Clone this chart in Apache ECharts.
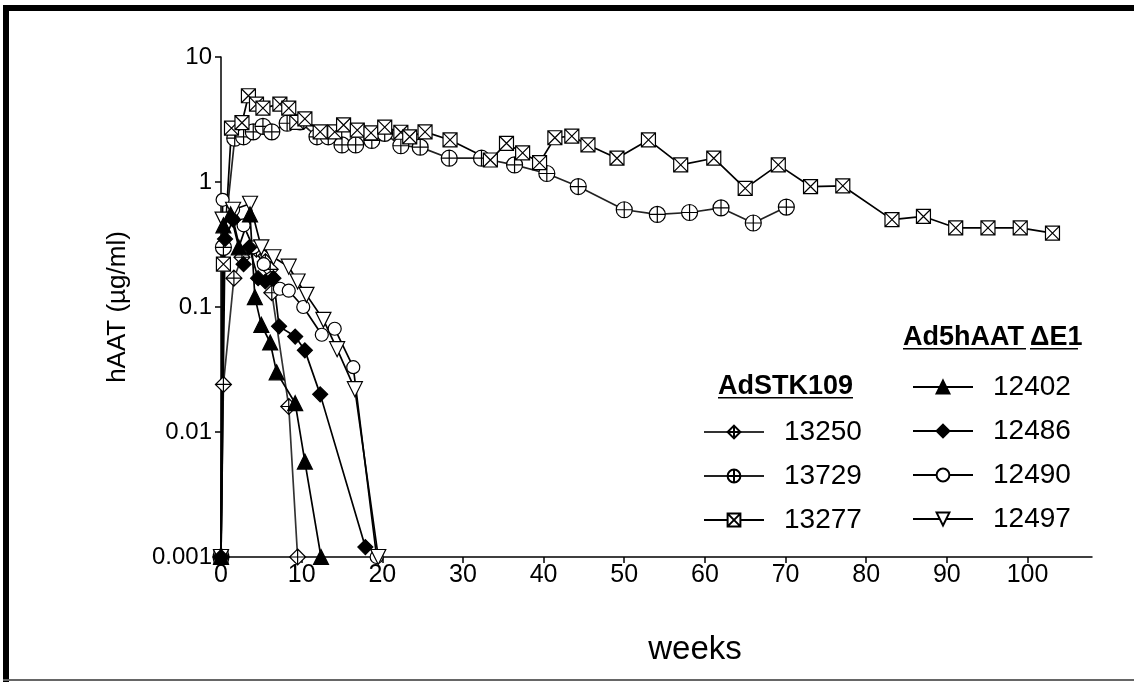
<!DOCTYPE html>
<html>
<head>
<meta charset="utf-8">
<script src="https://cdn.jsdelivr.net/npm/echarts@6/dist/echarts.min.js"></script>
<style>
  html, body { margin: 0; padding: 0; background: #fff; }
  #chart { width: 1134px; height: 682px; }
</style>
</head>
<body>
<div id="chart"></div>
<script>
// x ticks / y ticks
var weekTicks = [0, 10, 20, 30, 40, 50, 60, 70, 80, 90, 100];
var haatTicks = [0.001, 0.01, 0.1, 1, 10];

// AdSTK109 animals  [week, hAAT ug/ml]
var s13250 = [[0, 0.001], [0.3, 0.024], [1.6, 0.17], [2.6, 0.25], [4.4, 0.29], [5.5, 0.23],
  [6.1, 0.2], [6.3, 0.13], [8.4, 0.016], [9.5, 0.001]];
var s13729 = [[0, 0.001], [0.3, 0.3], [1.7, 2.24], [2.8, 2.3], [4, 2.52], [5.2, 2.79], [6.3, 2.52],
  [8.2, 2.95], [9.8, 3.03], [11.9, 2.3], [13.3, 2.3], [15, 1.98], [16.7, 1.98], [18.7, 2.15],
  [20.3, 2.45], [22.3, 1.95], [24.7, 1.9], [28.3, 1.55], [32.3, 1.55], [36.4, 1.37], [40.4, 1.17],
  [44.3, 0.92], [50, 0.6], [54.1, 0.55], [58.1, 0.57], [62, 0.62], [66, 0.47], [70.1, 0.63]];
var s13277 = [[0, 0.001], [0.3, 0.22], [1.3, 2.7], [2.6, 2.98], [3.4, 4.9], [4.4, 4.2], [5.2, 3.9],
  [7.3, 4.2], [8.4, 3.9], [9.4, 3.0], [10.4, 3.2], [12.3, 2.52], [14.1, 2.52], [15.2, 2.86],
  [16.9, 2.6], [18.6, 2.47], [20.3, 2.75], [22.3, 2.5], [23.4, 2.3], [25.3, 2.52], [28.4, 2.17],
  [33.4, 1.5], [35.4, 2.04], [37.4, 1.71], [39.5, 1.43], [41.4, 2.26], [43.5, 2.33], [45.5, 1.98],
  [49.1, 1.55], [53, 2.17], [57, 1.37], [61.1, 1.55], [65, 0.89], [69.1, 1.37], [73.1, 0.92],
  [77.1, 0.93], [83.2, 0.5], [87.1, 0.53], [91.1, 0.43], [95.1, 0.43], [99.1, 0.43], [103.1, 0.39]];

// Ad5hAATdE1 animals
var s12402 = [[0, 0.001], [0.3, 0.45], [1.2, 0.55], [2.2, 0.3], [3.6, 0.55], [4.2, 0.12],
  [5, 0.072], [6.1, 0.052], [6.9, 0.03], [9.2, 0.017], [10.4, 0.0058], [12.4, 0.001]];
var s12486 = [[0, 0.001], [0.5, 0.35], [1.5, 0.5], [2.8, 0.22], [3.5, 0.3], [4.6, 0.17], [5.5, 0.16],
  [6.5, 0.17], [7.2, 0.07], [9.2, 0.058], [10.4, 0.045], [12.3, 0.02], [17.9, 0.0012]];
var s12490 = [[0, 0.001], [0.2, 0.72], [1.5, 0.6], [2.8, 0.45], [4, 0.3], [5.3, 0.22], [6.3, 0.17],
  [7.3, 0.14], [8.4, 0.135], [10.2, 0.1], [12.5, 0.06], [14.1, 0.067], [16.4, 0.033], [19.3, 0.001]];
var s12497 = [[0, 0.001], [0.2, 0.5], [1.5, 0.6], [3.6, 0.67], [5, 0.3], [6.5, 0.25], [8.4, 0.21],
  [9.5, 0.16], [10.6, 0.125], [12.7, 0.079], [14.4, 0.046], [16.6, 0.022], [19.5, 0.001]];

var FONT = '"Liberation Sans", Arial, Helvetica, sans-serif';

// marker shapes
var diamondPlus = 'path://M10,0 L20,10 L10,20 L0,10 Z M10,0 L10,20 M0,10 L20,10';
var circlePlus = 'path://M0,10 A10,10 0 1,1 20,10 A10,10 0 1,1 0,10 Z M10,0 L10,20 M0,10 L20,10';
var squareX = 'path://M0,0 L20,0 L20,20 L0,20 Z M0,0 L20,20 M20,0 L0,20';
var triDown = 'path://M0,0 L20,0 L10,18 Z';

function mkSeries(name, data, symbol, size, fill, lineColor) {
  return {
    name: name,
    type: 'line',
    data: data,
    symbol: symbol,
    symbolSize: size,
    showAllSymbol: true,
    animation: false,
    lineStyle: { color: lineColor, width: 1.7 },
    itemStyle: { color: fill, borderColor: '#000', borderWidth: 1.2 }
  };
}

var chart = echarts.init(document.getElementById('chart'));

var option = {
  backgroundColor: '#fff',
  animation: false,
  grid: { left: 221, right: 42, top: 57, bottom: 125 },
  xAxis: {
    type: 'value',
    min: 0,
    max: 108,
    axisLine: { lineStyle: { color: '#000', width: 1.5 } },
    axisTick: { length: 6, lineStyle: { color: '#000', width: 1.5 }, customValues: weekTicks },
    axisLabel: { customValues: weekTicks, color: '#000', fontSize: 25, fontFamily: FONT, margin: 6 },
    splitLine: { show: false }
  },
  yAxis: {
    type: 'log',
    logBase: 10,
    min: 0.001,
    max: 10,
    axisLine: { show: true, lineStyle: { color: '#000', width: 1.5 } },
    axisTick: { show: true, length: 6, lineStyle: { color: '#000', width: 1.5 }, customValues: haatTicks },
    axisLabel: {
      customValues: haatTicks, color: '#000', fontSize: 24, fontFamily: FONT, margin: 9,
      formatter: function (v) { return String(+v.toPrecision(3)); }
    },
    splitLine: { show: false }
  },
  legend: [
    {
      data: ['13250', '13729', '13277'],
      orient: 'vertical',
      left: 703, top: 418,
      padding: 0,
      itemGap: 16,
      itemWidth: 60, itemHeight: 16,
      textStyle: { fontSize: 28, fontFamily: FONT, color: '#000', padding: [0, 0, 0, 15] }
    },
    {
      data: ['12402', '12486', '12490', '12497'],
      orient: 'vertical',
      left: 912, top: 373,
      padding: 0,
      itemGap: 16,
      itemWidth: 60, itemHeight: 16,
      textStyle: { fontSize: 28, fontFamily: FONT, color: '#000', padding: [0, 0, 0, 15] }
    }
  ],
  graphic: [
    // page frame
    { type: 'rect', shape: { x: 3, y: 5, width: 1131, height: 6 }, style: { fill: '#000' } },
    { type: 'rect', shape: { x: 3, y: 5, width: 6, height: 677 }, style: { fill: '#000' } },
    { type: 'rect', shape: { x: 3, y: 679, width: 1131, height: 2 }, style: { fill: '#666' } },
    // axis names
    {
      type: 'text', x: 118, y: 307, rotation: Math.PI / 2,
      style: { text: 'hAAT (µg/ml)', font: '26px ' + FONT, fill: '#000', align: 'center', verticalAlign: 'middle' }
    },
    {
      type: 'text', x: 695, y: 650,
      style: { text: 'weeks', font: '33px ' + FONT, fill: '#000', align: 'center', verticalAlign: 'middle' }
    },
    // legend group headers
    {
      type: 'text', x: 718, y: 387,
      style: { text: 'AdSTK109', font: 'bold 27px ' + FONT, fill: '#000', verticalAlign: 'middle' }
    },
    { type: 'rect', shape: { x: 718, y: 397, width: 135, height: 1.5 }, style: { fill: '#000' } },
    {
      type: 'text', x: 903, y: 338,
      style: { text: 'Ad5hAAT', font: 'bold 27px ' + FONT, fill: '#000', verticalAlign: 'middle' }
    },
    { type: 'rect', shape: { x: 903, y: 348, width: 123, height: 1.5 }, style: { fill: '#000' } },
    {
      type: 'text', x: 1030, y: 338,
      style: { text: 'ΔE1', font: 'bold 27px ' + FONT, fill: '#000', verticalAlign: 'middle' }
    },
    { type: 'rect', shape: { x: 1030, y: 348, width: 48, height: 1.5 }, style: { fill: '#000' } }
  ],
  series: [
    mkSeries('13729', s13729, circlePlus, 16, '#fff', '#222'),
    mkSeries('13277', s13277, squareX, 14, '#fff', '#000'),
    mkSeries('13250', s13250, diamondPlus, 16, '#fff', '#333'),
    mkSeries('12490', s12490, 'circle', 13, '#fff', '#000'),
    mkSeries('12497', s12497, triDown, 15, '#fff', '#000'),
    mkSeries('12486', s12486, 'diamond', 15, '#000', '#000'),
    mkSeries('12402', s12402, 'triangle', 15, '#000', '#000')
  ]
};

chart.setOption(option);
</script>
</body>
</html>
